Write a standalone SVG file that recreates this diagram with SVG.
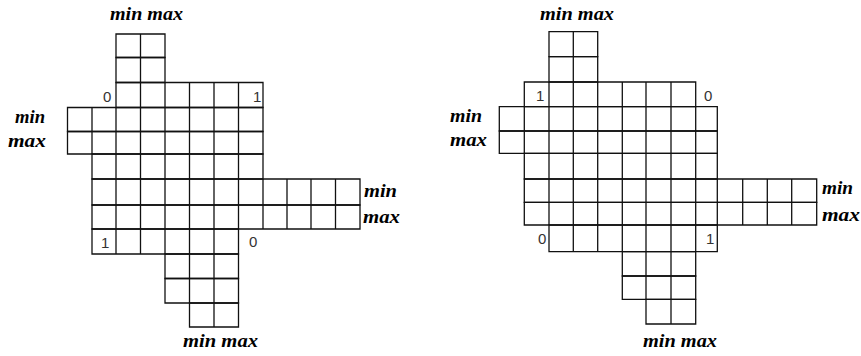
<svg xmlns="http://www.w3.org/2000/svg" width="861" height="356" viewBox="0 0 861 356">
<style>
.g{fill:none;stroke:#111;stroke-width:1.3}
.lb{font-family:"Liberation Serif",serif;font-weight:bold;font-style:italic;font-size:18px;fill:#000}
.n{font-family:"Liberation Sans",Arial,sans-serif;font-size:15px;fill:#333}
</style>
<rect width="861" height="356" fill="#fff"/>
<g id="left-grid" class="g">
<path d="M116 34H165V57.5H116Z M140.5 34V57.5"/>
<path d="M116 57.5H165V82.5H116Z M140.5 57.5V82.5"/>
<path d="M116 82.5H263V107.5H116Z M140.5 82.5V107.5 M165 82.5V107.5 M189.5 82.5V107.5 M214 82.5V107.5 M238.5 82.5V107.5"/>
<path d="M67.5 107.5H263V131.5H67.5Z M92 107.5V131.5 M116 107.5V131.5 M140.5 107.5V131.5 M165 107.5V131.5 M189.5 107.5V131.5 M214 107.5V131.5 M238.5 107.5V131.5"/>
<path d="M67.5 131.5H263V154H67.5Z M92 131.5V154 M116 131.5V154 M140.5 131.5V154 M165 131.5V154 M189.5 131.5V154 M214 131.5V154 M238.5 131.5V154"/>
<path d="M92 154H263V179H92Z M116 154V179 M140.5 154V179 M165 154V179 M189.5 154V179 M214 154V179 M238.5 154V179"/>
<path d="M92 179H360V205H92Z M116 179V205 M140.5 179V205 M165 179V205 M189.5 179V205 M214 179V205 M238.5 179V205 M263 179V205 M287 179V205 M311 179V205 M335.5 179V205"/>
<path d="M92 205H360V229H92Z M116 205V229 M140.5 205V229 M165 205V229 M189.5 205V229 M214 205V229 M238.5 205V229 M263 205V229 M287 205V229 M311 205V229 M335.5 205V229"/>
<path d="M92 229H238.5V254H92Z M116 229V254 M140.5 229V254 M165 229V254 M189.5 229V254 M214 229V254"/>
<path d="M165 254H238.5V278.5H165Z M189.5 254V278.5 M214 254V278.5"/>
<path d="M165 278.5H238.5V303H165Z M189.5 278.5V303 M214 278.5V303"/>
<path d="M189.5 303H238.5V327H189.5Z M214 303V327"/>
</g>
<g id="left-labels">
<text class="lb" x="110" y="20" textLength="73" lengthAdjust="spacingAndGlyphs">min max</text>
<text class="lb" x="15" y="123" textLength="30" lengthAdjust="spacingAndGlyphs">min</text>
<text class="lb" x="8" y="147" textLength="38" lengthAdjust="spacingAndGlyphs">max</text>
<text class="lb" x="364" y="197" textLength="33" lengthAdjust="spacingAndGlyphs">min</text>
<text class="lb" x="363" y="223" textLength="37" lengthAdjust="spacingAndGlyphs">max</text>
<text class="lb" x="183" y="347" textLength="75" lengthAdjust="spacingAndGlyphs">min max</text>
<text class="n" x="103" y="102">0</text>
<text class="n" x="253" y="102">1</text>
<text class="n" x="101" y="248">1</text>
<text class="n" x="249" y="247">0</text>
</g>
<g id="right-grid" class="g">
<path d="M549 31.7H597.7V56.7H549Z M573.3 31.7V56.7"/>
<path d="M549 56.7H597.7V82H549Z M573.3 56.7V82"/>
<path d="M524.3 82H695.7V106.7H524.3Z M549 82V106.7 M573.3 82V106.7 M597.7 82V106.7 M622.3 82V106.7 M646 82V106.7 M671 82V106.7"/>
<path d="M499.3 106.7H717.3V131H499.3Z M524.3 106.7V131 M549 106.7V131 M573.3 106.7V131 M597.7 106.7V131 M622.3 106.7V131 M646 106.7V131 M671 106.7V131 M695.7 106.7V131"/>
<path d="M499.3 131H717.3V153.3H499.3Z M524.3 131V153.3 M549 131V153.3 M573.3 131V153.3 M597.7 131V153.3 M622.3 131V153.3 M646 131V153.3 M671 131V153.3 M695.7 131V153.3"/>
<path d="M524.3 153.3H717.3V179H524.3Z M549 153.3V179 M573.3 153.3V179 M597.7 153.3V179 M622.3 153.3V179 M646 153.3V179 M671 153.3V179 M695.7 153.3V179"/>
<path d="M524.3 179H816.7V202.3H524.3Z M549 179V202.3 M573.3 179V202.3 M597.7 179V202.3 M622.3 179V202.3 M646 179V202.3 M671 179V202.3 M695.7 179V202.3 M717.3 179V202.3 M742.7 179V202.3 M767.3 179V202.3 M791.7 179V202.3"/>
<path d="M524.3 202.3H816.7V225H524.3Z M549 202.3V225 M573.3 202.3V225 M597.7 202.3V225 M622.3 202.3V225 M646 202.3V225 M671 202.3V225 M695.7 202.3V225 M717.3 202.3V225 M742.7 202.3V225 M767.3 202.3V225 M791.7 202.3V225"/>
<path d="M549 225H717.3V251.7H549Z M573.3 225V251.7 M597.7 225V251.7 M622.3 225V251.7 M646 225V251.7 M671 225V251.7 M695.7 225V251.7"/>
<path d="M622.3 251.7H695.7V276H622.3Z M646 251.7V276 M671 251.7V276"/>
<path d="M622.3 276H695.7V299.3H622.3Z M646 276V299.3 M671 276V299.3"/>
<path d="M646 299.3H695.7V324H646Z M671 299.3V324"/>
</g>
<g id="right-labels">
<text class="lb" x="540" y="20" textLength="74" lengthAdjust="spacingAndGlyphs">min max</text>
<text class="lb" x="450" y="122" textLength="32" lengthAdjust="spacingAndGlyphs">min</text>
<text class="lb" x="450" y="146" textLength="37" lengthAdjust="spacingAndGlyphs">max</text>
<text class="lb" x="822" y="194" textLength="31" lengthAdjust="spacingAndGlyphs">min</text>
<text class="lb" x="822" y="221" textLength="38" lengthAdjust="spacingAndGlyphs">max</text>
<text class="lb" x="643" y="347" textLength="74" lengthAdjust="spacingAndGlyphs">min max</text>
<text class="n" x="536" y="101">1</text>
<text class="n" x="704" y="101">0</text>
<text class="n" x="538" y="244">0</text>
<text class="n" x="706" y="244">1</text>
</g>
</svg>
